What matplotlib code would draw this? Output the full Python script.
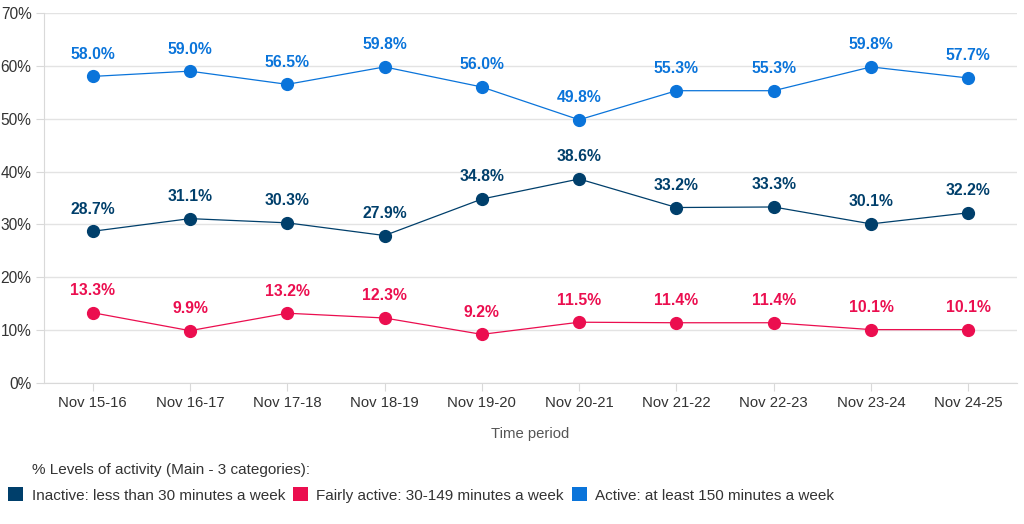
import matplotlib.pyplot as plt
from matplotlib.patches import Patch
from matplotlib.ticker import FuncFormatter

# Data
periods = ['Nov 15-16', 'Nov 16-17', 'Nov 17-18', 'Nov 18-19', 'Nov 19-20',
           'Nov 20-21', 'Nov 21-22', 'Nov 22-23', 'Nov 23-24', 'Nov 24-25']
inactive = [28.7, 31.1, 30.3, 27.9, 34.8, 38.6, 33.2, 33.3, 30.1, 32.2]
fairly_active = [13.3, 9.9, 13.2, 12.3, 9.2, 11.5, 11.4, 11.4, 10.1, 10.1]
active = [58.0, 59.0, 56.5, 59.8, 56.0, 49.8, 55.3, 55.3, 59.8, 57.7]

series_names = ['Inactive: less than 30 minutes a week',
                'Fairly active: 30-149 minutes a week',
                'Active: at least 150 minutes a week']
colors = ['#003F6B', '#EB0E4F', '#0A74DA']

plt.rcParams['font.family'] = ['Liberation Sans', 'DejaVu Sans']

fig = plt.figure(figsize=(10.24, 5.24), dpi=100)
ax = fig.add_axes([44/1024, 1 - 383/524, (1017 - 44)/1024, (383 - 13)/524])

x = list(range(len(periods)))
for vals, col in zip([inactive, fairly_active, active], colors):
    ax.plot(x, vals, color=col, lw=0.9, marker='o', markersize=8.5, zorder=3)
    for xi, v in zip(x, vals):
        ax.annotate(f'{v:.1f}%', (xi, v), xytext=(0, 10.5), textcoords='offset points',
                    ha='center', va='bottom', fontsize=11.3, fontweight='bold', color=col)

ax.set_xlim(-0.5, len(periods) - 0.5)
ax.set_ylim(0, 70)
ax.set_yticks(range(0, 71, 10))
ax.yaxis.set_major_formatter(FuncFormatter(lambda v, p: f'{v:.0f}%'))
ax.set_xticks(x)
ax.set_xticklabels(periods)
ax.grid(axis='y', color='#E3E3E3', lw=1)
ax.set_axisbelow(True)
for s in ['top', 'right']:
    ax.spines[s].set_visible(False)
for s in ['left', 'bottom']:
    ax.spines[s].set_color('#D9D9D9')
ax.tick_params(axis='both', colors='#D9D9D9', labelcolor='#333333', labelsize=10.7, length=6)
ax.tick_params(axis='y', labelsize=11.2, pad=3)
ax.set_xlabel('Time period', fontsize=10.7, color='#555555', labelpad=12)

fig.text(32/1024, 1 - 470/524, '% Levels of activity (Main - 3 categories):',
         fontsize=11, color='#333333', va='center')
handles = [Patch(facecolor=c, edgecolor='none') for c in colors]
leg = fig.legend(handles, series_names, loc='center left', ncol=3, frameon=False,
                 fontsize=11, handlelength=1.0, handleheight=1.0,
                 handletextpad=0.55, columnspacing=0.5, borderpad=0.0, borderaxespad=0.0,
                 labelcolor='#333333')
leg.set_bbox_to_anchor((8/1024, 1 - 495/524), transform=fig.transFigure)

plt.savefig('out.png', dpi=100)
